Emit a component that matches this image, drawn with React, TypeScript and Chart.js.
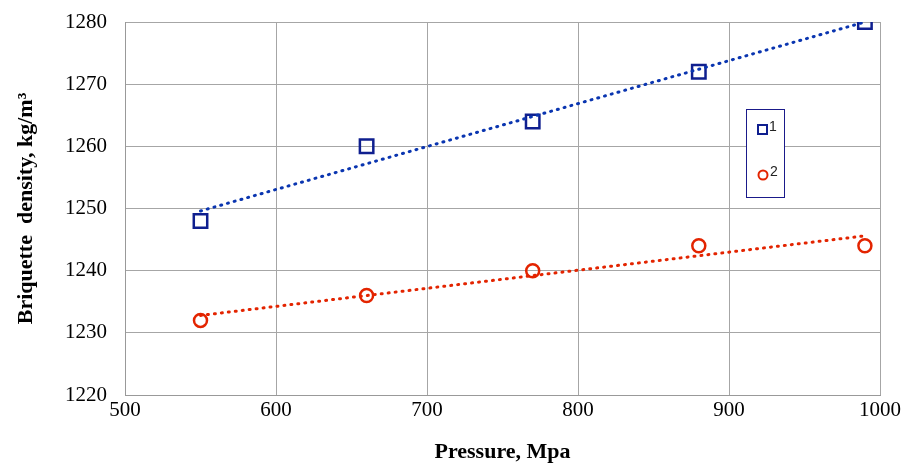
import React, { useEffect, useRef } from "react";
import { Chart, registerables } from "chart.js";

Chart.register(...registerables);

const pressure = [550, 660, 770, 880, 990];
const density1 = [1248, 1260, 1264, 1272, 1280];
const density2 = [1232, 1236, 1240, 1244, 1244];
const trendX = [550, 990];
const trend1 = [1249.6, 1280.0];
const trend2 = [1232.8, 1245.6];
const legendLabels = ["1", "2"];

const BLUE = "#0f1f8f";
const BLUE_LINE = "#0a35b0";
const RED = "#e32400";
const SERIF = "'Liberation Serif', 'Times New Roman', serif";

const legendPlugin = {
  id: "boxLegend",
  afterDraw(chart: any) {
    const ctx = chart.ctx;
    ctx.save();
    ctx.strokeStyle = "#1a1a8a";
    ctx.lineWidth = 1;
    ctx.fillStyle = "#ffffff";
    ctx.fillRect(746, 109, 38, 88);
    ctx.strokeRect(746.5, 109.5, 38, 88);
    ctx.lineWidth = 2;
    ctx.strokeStyle = BLUE;
    ctx.strokeRect(758, 125, 9, 9);
    ctx.strokeStyle = RED;
    ctx.beginPath();
    ctx.arc(763, 175, 4.5, 0, Math.PI * 2);
    ctx.stroke();
    ctx.fillStyle = "#222";
    ctx.font = "14px 'Liberation Sans', Arial, sans-serif";
    ctx.textBaseline = "middle";
    ctx.fillText(legendLabels[0], 769, 127);
    ctx.fillText(legendLabels[1], 770, 172);
    ctx.restore();
  },
};

export default function App() {
  const ref = useRef<HTMLCanvasElement>(null);
  useEffect(() => {
    document.body.style.margin = "0";
    const chart = new Chart(ref.current!, {
      type: "scatter",
      data: {
        datasets: [
          {
            label: "trend1",
            data: trendX.map((x, i) => ({ x, y: trend1[i] })),
            showLine: true,
            borderColor: BLUE_LINE,
            borderWidth: 3,
            borderDash: [1, 6],
            borderCapStyle: "round",
            pointRadius: 0,
          },
          {
            label: "trend2",
            data: trendX.map((x, i) => ({ x, y: trend2[i] })),
            showLine: true,
            borderColor: RED,
            borderWidth: 3,
            borderDash: [1, 6],
            borderCapStyle: "round",
            pointRadius: 0,
          },
          {
            label: legendLabels[0],
            data: pressure.map((x, i) => ({ x, y: density1[i] })),
            pointStyle: "rect",
            pointRadius: 9.5,
            pointBorderWidth: 2.5,
            pointBorderColor: BLUE,
            pointBackgroundColor: "rgba(0,0,0,0)",
          },
          {
            label: legendLabels[1],
            data: pressure.map((x, i) => ({ x, y: density2[i] })),
            pointStyle: "circle",
            pointRadius: 6.5,
            pointBorderWidth: 2.5,
            pointBorderColor: RED,
            pointBackgroundColor: "rgba(0,0,0,0)",
          },
        ],
      },
      options: {
        animation: false,
        responsive: false,
        layout: { autoPadding: false, padding: { left: 0, right: 22, top: 22, bottom: 0 } },
        plugins: { legend: { display: false }, tooltip: { enabled: false } },
        scales: {
          x: {
            type: "linear",
            min: 500,
            max: 1000,
            ticks: {
              stepSize: 100,
              color: "#000",
              padding: 3,
              callback: (v: any) => String(v),
              font: { family: SERIF, size: 21 },
            },
            grid: { color: "#a6a6a6", drawTicks: false, lineWidth: 1 },
            border: { color: "#999", width: 1 },
            title: {
              display: true,
              text: "Pressure, Mpa",
              color: "#000",
              padding: { top: 0, bottom: 0 },
              font: { family: SERIF, size: 22, weight: "bold" },
            },
            afterFit(scale: any) {
              scale.height = 71;
              scale.paddingLeft = 0;
              scale.paddingRight = 0;
            },
          },
          y: {
            min: 1220,
            max: 1280,
            ticks: {
              stepSize: 10,
              color: "#000",
              padding: 18,
              callback: (v: any) => String(v),
              font: { family: SERIF, size: 21 },
            },
            grid: { color: "#a6a6a6", drawTicks: false, lineWidth: 1 },
            border: { color: "#999", width: 1 },
            title: {
              display: true,
              text: "Briquette  density, kg/m³",
              color: "#000",
              padding: { top: 13, bottom: 0 },
              font: { family: SERIF, size: 22, weight: "bold" },
            },
            afterFit(scale: any) {
              scale.width = 125;
              scale.paddingTop = 0;
              scale.paddingBottom = 0;
            },
          },
        },
      },
      plugins: [legendPlugin],
    } as any);
    return () => chart.destroy();
  }, []);
  return (
    <div style={{ width: 902, height: 466, background: "#fff" }}>
      <canvas ref={ref} width={902} height={466} style={{ display: "block" }} />
    </div>
  );
}
